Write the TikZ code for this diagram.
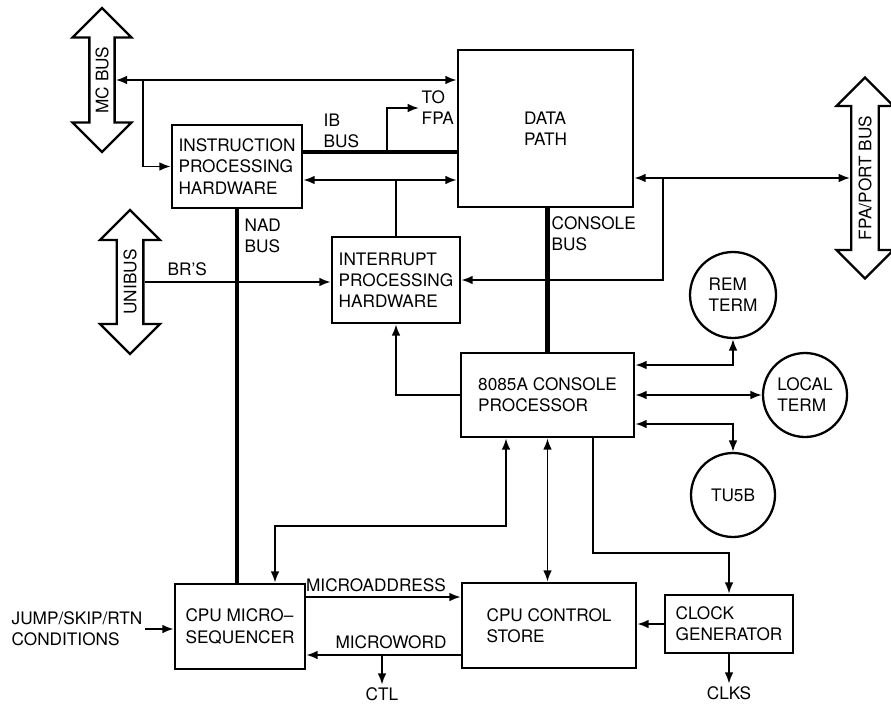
\documentclass[tikz,border=0pt]{standalone}
\usepackage{fontspec}
\setmainfont{TeX Gyre Heros}
\usetikzlibrary{calc,positioning,arrows.meta,shapes.arrows}

\begin{document}
\begin{tikzpicture}[x=0.02cm,y=-0.02cm,line width=1.1pt,>={Latex[length=6.5pt,width=5pt]},
  every node/.style={font=\fontsize{9.8}{12}\selectfont},
  blk/.style={draw,line width=1.5pt,inner sep=2pt,align=left},
  trm/.style={draw,circle,line width=1.3pt,inner sep=0pt,align=left},
  busarrow/.style={draw,double arrow,rotate=90,line width=1.3pt,inner sep=2pt,double arrow head extend=0.3cm},
  bus/.style={line width=2.4pt},
  lbl/.style={inner sep=1pt,align=left}]
     \useasboundingbox (0,0) rectangle (891,706);

     % buses
     \node[busarrow,minimum height=2.88cm,minimum width=1.18cm] (mcbus) at (102,80) {MC BUS};
     \node[busarrow,minimum height=2.88cm,minimum width=1.2cm,double arrow head extend=0.28cm] (unibus) at (130,282) {UNIBUS};
     \node[busarrow,minimum height=4.02cm,minimum width=1.14cm,double arrow head extend=0.24cm] (fpabus) at (865,178) {FPA/PORT BUS};

     % blocks
     \node[blk,minimum width=2.6cm,minimum height=1.66cm] (iph) at (237,166.5) {INSTRUCTION\\PROCESSING\\HARDWARE};
     \node[blk,minimum width=3.5cm,minimum height=3.14cm] (dpath) at (545.5,128.5) {DATA\\PATH};
     \node[blk,minimum width=2.56cm,minimum height=1.72cm] (inph) at (396,280) {INTERRUPT\\PROCESSING\\HARDWARE};
     \node[blk,minimum width=3.46cm,minimum height=1.68cm] (cproc) at (547.5,395) {8085A CONSOLE\\PROCESSOR};
     \node[blk,minimum width=2.6cm,minimum height=1.7cm] (useq) at (240,626.5) {CPU MICRO--\\SEQUENCER};
     \node[blk,minimum width=3.48cm,minimum height=1.7cm] (cstore) at (549,625.5) {CPU CONTROL\\STORE};
     \node[blk,minimum width=2.56cm,minimum height=1.16cm] (clkgen) at (729,624) {CLOCK\\GENERATOR};
     \node[trm,minimum size=1.72cm] (remterm) at (733,295) {REM\\TERM};
     \node[trm,minimum size=1.68cm] (locterm) at (805,395) {LOCAL\\TERM};
     \node[trm,minimum size=1.68cm] (tu) at (733,495) {TU5B};

     % labels
     \node[lbl,anchor=west] (iblbl) at (321,131) {IB\\BUS};
     \node[lbl,anchor=west] (tofpa) at (419,108) {TO\\FPA};
     \node[lbl,anchor=west] (nadlbl) at (242,236) {NAD\\BUS};
     \node[lbl,anchor=west] (conlbl) at (549,234) {CONSOLE\\BUS};
     \node[lbl,anchor=south west] (brlbl) at (165,279) {BR’S};
     \node[lbl,anchor=east] (jump) at (145,629) {JUMP/SKIP/RTN\\CONDITIONS};
     \node[lbl] (malbl) at (376,585) {MICROADDRESS};
     \node[lbl] (mwlbl) at (391,642) {MICROWORD};
     \node[lbl] (ctl) at (382,694) {CTL};
     \node[lbl] (clks) at (729,693) {CLKS};

     \coordinate (mcfork) at (143,80);
     \coordinate (ibfork) at (387,152);
     \coordinate (ipfork) at (396,180);
     \coordinate (fpfork) at (663,178);
     \coordinate (sqbend) at (506,526);
     \coordinate (ckbend) at (593,553);
     \coordinate (maddr) at (380,597);
     \coordinate (mword) at (382,655);

     % connections
     \draw[<->] (mcbus.south) -- (mcbus.south -| dpath.west);
     \draw[->] (mcfork) |- (iph.west);
     \draw[bus] (iph.east |- ibfork) -- (dpath.west |- ibfork);
     \draw[->] (ibfork) |- (tofpa.west);
     \draw[<->] (iph.east |- ipfork) -- (dpath.west |- ipfork);
     \draw (ipfork) -- (inph.north);
     \draw[<->] (dpath.east |- fpabus.north) -- (fpabus.north);
     \draw[->] (fpfork) |- (inph.east);
     \draw[bus] (cproc.north) -- (cproc.north |- dpath.south);
     \draw[bus] (iph.south) -- (iph.south |- useq.north);
     \draw[->] (unibus.south) -- (unibus.south -| inph.west);
     \draw[->] (cproc.west) -| (inph.south);
     \draw[<->] ($(cproc.east)+(0,-30)$) -| (remterm.south);
     \draw[<->] (cproc.east) -- (locterm.west);
     \draw[<->] ($(cproc.east)+(0,29)$) -| (tu.north);
     \draw[<->] ($(useq.north)+(35,0)$) |- (sqbend) -- (sqbend |- cproc.south);
     \draw[<->] (cproc.south) -- (cproc.south |- cstore.north);
     \draw[->] (ckbend |- cproc.south) -- (ckbend) -| (clkgen.north);
     \draw[->] (jump.east) -- (jump.east -| useq.west);
     \draw[->] (useq.east |- maddr) -- (cstore.west |- maddr);
     \draw[->] (cstore.west |- mword) -- (useq.east |- mword);
     \draw[->] (mword) -- (ctl.north);
     \draw[->] (clkgen.west) -- (clkgen.west -| cstore.east);
     \draw[->] (clkgen.south) -- (clks.north);
\end{tikzpicture}
\end{document}
